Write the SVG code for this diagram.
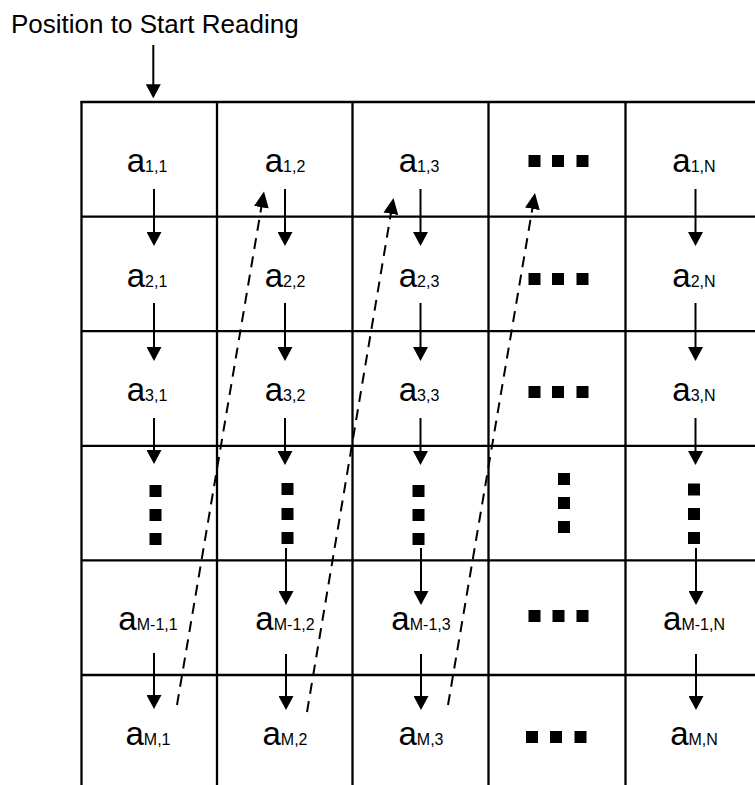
<svg xmlns="http://www.w3.org/2000/svg" width="755" height="785" viewBox="0 0 755 785">
<style>
.grid line{stroke:#000;stroke-width:2.3}
.lbl{font-family:"Liberation Sans",Arial,sans-serif;font-size:33px;fill:#000;text-anchor:middle}
.lbl tspan{font-size:16px}
.title{font-family:"Liberation Sans",Arial,sans-serif;font-size:26px;fill:#000}
.arr{stroke:#000;stroke-width:2;fill:none;marker-end:url(#ah)}
.dash{stroke:#000;stroke-width:2;fill:none;stroke-dasharray:11 7.5;marker-end:url(#ahd)}
.dot{fill:#000}
</style>
<defs>
<marker id="ah" markerUnits="userSpaceOnUse" viewBox="0 0 14 15" markerWidth="14" markerHeight="15" refX="11" refY="7.5" orient="auto"><path d="M0,0 L14,7.5 L0,15 z" fill="#000"/></marker>
<marker id="ahd" markerUnits="userSpaceOnUse" viewBox="0 0 16 15" markerWidth="16" markerHeight="15" refX="13" refY="7.5" orient="auto"><path d="M0,0 L16,7.5 L0,15 z" fill="#000"/></marker>
<rect id="sq" width="12" height="12"/>
</defs>
<rect width="755" height="785" fill="#fff"/>
<g id="title"><text class="title" x="11" y="33">Position to Start Reading</text></g>
<g class="grid" id="grid">
<line x1="80.5" y1="102" x2="755" y2="102"/>
<line x1="81.5" y1="216.6" x2="755" y2="216.6"/>
<line x1="81.5" y1="331.2" x2="755" y2="331.2"/>
<line x1="81.5" y1="445.8" x2="755" y2="445.8"/>
<line x1="81.5" y1="560.4" x2="755" y2="560.4"/>
<line x1="81.5" y1="675" x2="755" y2="675"/>
<line x1="81.5" y1="101" x2="81.5" y2="785"/>
<line x1="217" y1="101" x2="217" y2="785"/>
<line x1="352.5" y1="101" x2="352.5" y2="785"/>
<line x1="488.5" y1="101" x2="488.5" y2="785"/>
<line x1="625.5" y1="101" x2="625.5" y2="785"/>
</g>
<g id="col1">
<g id="a11"><text class="lbl" x="147" y="171.5">a<tspan>1,1</tspan></text></g>
<g id="a21"><text class="lbl" x="147" y="286.5">a<tspan>2,1</tspan></text></g>
<g id="a31"><text class="lbl" x="147" y="401">a<tspan>3,1</tspan></text></g>
<g id="d41"><use href="#sq" class="dot" x="149.5" y="485"/><use href="#sq" class="dot" x="149.5" y="509"/><use href="#sq" class="dot" x="149.5" y="533"/></g>
<g id="a51"><text class="lbl" x="148" y="630">a<tspan>M-1,1</tspan></text></g>
<g id="a61"><text class="lbl" x="148" y="745">a<tspan>M,1</tspan></text></g>
</g>
<g id="col2">
<g id="a12"><text class="lbl" x="285" y="171.5">a<tspan>1,2</tspan></text></g>
<g id="a22"><text class="lbl" x="285" y="286.5">a<tspan>2,2</tspan></text></g>
<g id="a32"><text class="lbl" x="285" y="401">a<tspan>3,2</tspan></text></g>
<g id="d42"><use href="#sq" class="dot" x="281.5" y="483"/><use href="#sq" class="dot" x="281.5" y="508"/><use href="#sq" class="dot" x="281.5" y="532"/></g>
<g id="a52"><text class="lbl" x="285" y="630">a<tspan>M-1,2</tspan></text></g>
<g id="a62"><text class="lbl" x="285" y="745">a<tspan>M,2</tspan></text></g>
</g>
<g id="col3">
<g id="a13"><text class="lbl" x="419" y="171.5">a<tspan>1,3</tspan></text></g>
<g id="a23"><text class="lbl" x="419" y="286.5">a<tspan>2,3</tspan></text></g>
<g id="a33"><text class="lbl" x="419" y="401">a<tspan>3,3</tspan></text></g>
<g id="d43"><use href="#sq" class="dot" x="412.5" y="485"/><use href="#sq" class="dot" x="412.5" y="509"/><use href="#sq" class="dot" x="412.5" y="533"/></g>
<g id="a53"><text class="lbl" x="421" y="630">a<tspan>M-1,3</tspan></text></g>
<g id="a63"><text class="lbl" x="421" y="745">a<tspan>M,3</tspan></text></g>
</g>
<g id="col4">
<g id="d14"><use href="#sq" class="dot" x="528.5" y="155"/><use href="#sq" class="dot" x="552" y="155"/><use href="#sq" class="dot" x="576.5" y="155"/></g>
<g id="d24"><use href="#sq" class="dot" x="528.5" y="273"/><use href="#sq" class="dot" x="552" y="273"/><use href="#sq" class="dot" x="576.5" y="273"/></g>
<g id="d34"><use href="#sq" class="dot" x="528.5" y="386"/><use href="#sq" class="dot" x="552" y="386"/><use href="#sq" class="dot" x="576.5" y="386"/></g>
<g id="d44"><use href="#sq" class="dot" x="558" y="473"/><use href="#sq" class="dot" x="558" y="497"/><use href="#sq" class="dot" x="558" y="521"/></g>
<g id="d54"><use href="#sq" class="dot" x="528.5" y="610"/><use href="#sq" class="dot" x="552.5" y="610"/><use href="#sq" class="dot" x="576.5" y="610"/></g>
<g id="d64"><use href="#sq" class="dot" x="526" y="731"/><use href="#sq" class="dot" x="550" y="731"/><use href="#sq" class="dot" x="574.5" y="731"/></g>
</g>
<g id="colN">
<g id="a1N"><text class="lbl" x="694" y="171.5">a<tspan>1,N</tspan></text></g>
<g id="a2N"><text class="lbl" x="694" y="286.5">a<tspan>2,N</tspan></text></g>
<g id="a3N"><text class="lbl" x="694" y="401">a<tspan>3,N</tspan></text></g>
<g id="d4N"><use href="#sq" class="dot" x="688" y="483.5"/><use href="#sq" class="dot" x="688" y="508"/><use href="#sq" class="dot" x="688" y="532"/></g>
<g id="a5N"><text class="lbl" x="694" y="630">a<tspan>M-1,N</tspan></text></g>
<g id="a6N"><text class="lbl" x="694" y="745">a<tspan>M,N</tspan></text></g>
</g>
<g id="connectors">
<line class="arr" x1="153.3" y1="45" x2="153.3" y2="95.3"/>
<line class="arr" x1="154" y1="189" x2="154" y2="243"/>
<line class="arr" x1="154" y1="303" x2="154" y2="358"/>
<line class="arr" x1="154" y1="418" x2="154" y2="461"/>
<line class="arr" x1="154" y1="653" x2="154" y2="706"/>
<line class="arr" x1="285" y1="189" x2="285" y2="243"/>
<line class="arr" x1="285" y1="303" x2="285" y2="358"/>
<line class="arr" x1="285" y1="418" x2="285" y2="462"/>
<line class="arr" x1="286" y1="548" x2="286" y2="602"/>
<line class="arr" x1="286" y1="654" x2="286" y2="707"/>
<line class="arr" x1="420.5" y1="189" x2="420.5" y2="243"/>
<line class="arr" x1="420.5" y1="303" x2="420.5" y2="358"/>
<line class="arr" x1="420.5" y1="418" x2="420.5" y2="462"/>
<line class="arr" x1="421" y1="548" x2="421" y2="602"/>
<line class="arr" x1="421" y1="654" x2="421" y2="707"/>
<line class="arr" x1="695.5" y1="189" x2="695.5" y2="243"/>
<line class="arr" x1="695.5" y1="303" x2="695.5" y2="358"/>
<line class="arr" x1="695.5" y1="418" x2="695.5" y2="462"/>
<line class="arr" x1="696" y1="548" x2="696" y2="602"/>
<line class="arr" x1="696" y1="654" x2="696" y2="707"/>
<line class="dash" x1="177" y1="705" x2="263.5" y2="194.5"/>
<line class="dash" x1="307" y1="712" x2="393" y2="201"/>
<line class="dash" x1="448" y1="705" x2="534.5" y2="196"/>
</g>
</svg>
